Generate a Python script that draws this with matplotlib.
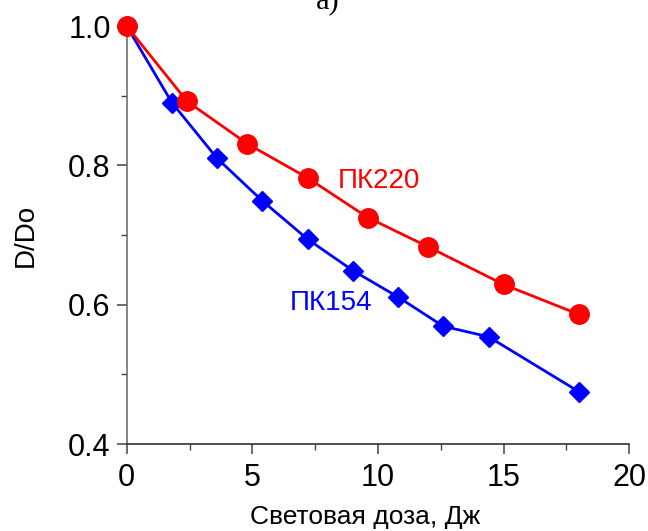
import matplotlib.pyplot as plt
from matplotlib.ticker import MultipleLocator

# данные: световая доза (Дж) и D/Do
doza_pk154 = [0, 1.8, 3.6, 5.4, 7.2, 9.0, 10.8, 12.6, 14.4, 18.0]
d_pk154 = [1.0, 0.890, 0.810, 0.749, 0.694, 0.649, 0.611, 0.569, 0.554, 0.475]

doza_pk220 = [0, 2.4, 4.8, 7.2, 9.6, 12.0, 15.0, 18.0]
d_pk220 = [1.0, 0.892, 0.831, 0.782, 0.725, 0.683, 0.629, 0.586]

x_ticks = [0, 5, 10, 15, 20]
y_ticks = [0.4, 0.6, 0.8, 1.0]

plt.rcParams['font.family'] = ['Liberation Sans', 'DejaVu Sans']

fig = plt.figure(figsize=(6.48, 5.31), dpi=100)
ax = fig.add_axes([0.1955, 0.1638, 0.7756, 0.7872])

ax.plot(doza_pk154, d_pk154, color='#0000ff', lw=2, marker='D', ms=10,
        clip_on=False, zorder=3)
ax.plot(doza_pk220, d_pk220, color='#ff0000', lw=2, marker='o', ms=14,
        clip_on=False, zorder=4)

ax.text(8.41, 0.778, 'ПК220', color='#ff0000', fontsize=20, va='center', ha='left')
ax.text(6.5, 0.602, 'ПК154', color='#0000ff', fontsize=20, va='center', ha='left')

ax.set_xlim(0, 20)
ax.set_ylim(0.4, 1.0)
ax.set_xticks(x_ticks)
ax.set_yticks(y_ticks)
ax.set_yticklabels(['%.1f' % v for v in y_ticks])
ax.xaxis.set_minor_locator(MultipleLocator(2.5))
ax.yaxis.set_minor_locator(MultipleLocator(0.1))

ax.spines['top'].set_visible(False)
ax.spines['right'].set_visible(False)
ax.spines['left'].set_color('#666666')
ax.spines['bottom'].set_color('#222222')
ax.spines['left'].set_linewidth(1.1)
ax.spines['bottom'].set_linewidth(1.1)

ax.tick_params(axis='both', which='major', direction='out', length=7.5,
               width=1.1, labelsize=22, color='#444444')
ax.tick_params(axis='x', which='major', pad=6)
ax.tick_params(axis='y', which='major', pad=4)
ax.tick_params(axis='both', which='minor', direction='out', length=4.5,
               width=1.0, color='#444444')

fig.text(26 / 648, 0.5 * (0.1638 + 0.9510), 'D/Do', rotation=90,
         fontsize=20, ha='center', va='center')
fig.text(365 / 648, 0.014, 'Световая доза, Дж', fontsize=19,
         ha='center', va='baseline')
fig.text(328 / 648, 0.985, 'a)', fontsize=22, ha='center', va='baseline',
         family='Liberation Serif')

fig.savefig('out.png', dpi=100)
